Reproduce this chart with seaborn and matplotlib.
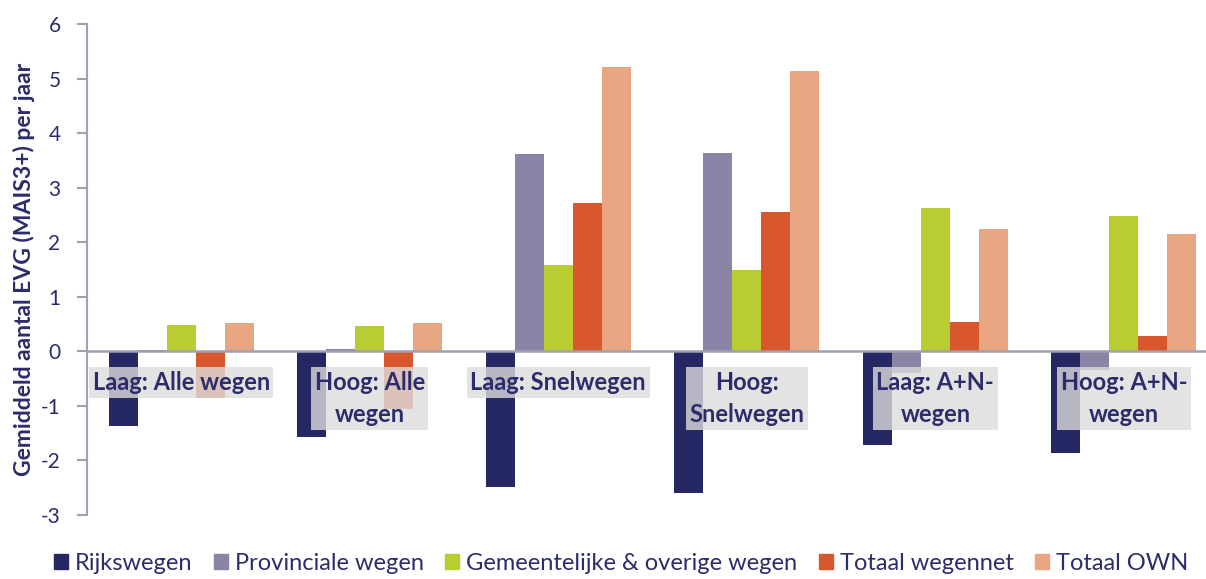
import pandas as pd
import matplotlib.pyplot as plt
import seaborn as sns

# data
categories = ["Laag: Alle wegen", "Hoog: Alle\nwegen", "Laag: Snelwegen",
              "Hoog:\nSnelwegen", "Laag: A+N-\nwegen", "Hoog: A+N-\nwegen"]
series = ["Rijkswegen", "Provinciale wegen", "Gemeentelijke & overige wegen",
          "Totaal wegennet", "Totaal OWN"]
rijkswegen = [-1.37, -1.57, -2.49, -2.60, -1.71, -1.86]
provinciaal = [0.03, 0.05, 3.61, 3.63, -0.39, -0.35]
gemeentelijk = [0.48, 0.47, 1.58, 1.49, 2.62, 2.49]
totaal_wegennet = [-0.86, -1.05, 2.72, 2.55, 0.53, 0.29]
totaal_own = [0.52, 0.52, 5.21, 5.14, 2.24, 2.15]
colors = ["#262864", "#8B84A6", "#B9CC32", "#D9572C", "#E9A683"]

values = [rijkswegen, provinciaal, gemeentelijk, totaal_wegennet, totaal_own]
rows = []
for s, vals in zip(series, values):
    for c, v in zip(categories, vals):
        rows.append({"categorie": c, "reeks": s, "waarde": v})
df = pd.DataFrame(rows)

sns.set_style("white")
plt.rcParams["font.family"] = ["Lato", "DejaVu Sans"]
plt.rcParams["axes.unicode_minus"] = False
navy = "#2B2D6B"

fig = plt.figure(figsize=(12.06, 5.79), dpi=100)
ax = fig.add_axes([0.0721, 0.1105, 0.938, 0.848])

sns.barplot(data=df, x="categorie", y="waarde", hue="reeks", order=categories,
            hue_order=series, palette=colors, width=0.77, saturation=1,
            linewidth=0, legend=False, ax=ax)

ax.set_ylim(-3, 6)
ax.set_xlim(-0.5, 5.5)
ax.set_yticks(range(-3, 7))
ax.tick_params(axis="y", direction="out", length=7, width=1.5, color="#A0A0B4",
               labelsize=15, labelcolor=navy, left=True, pad=12)
ax.set_xticks([])
ax.set_xlabel("")
ax.set_ylabel("Gemiddeld aantal EVG (MAIS3+) per jaar", fontsize=16.5,
              fontweight="bold", color=navy, labelpad=4)
for side in ["top", "right", "bottom"]:
    ax.spines[side].set_visible(False)
ax.spines["left"].set_color("#A0A0B4")
ax.spines["left"].set_linewidth(1.5)
ax.axhline(0, color="#A0A0B4", lw=1.8, zorder=5)

# category labels sitting just below the zero line
for i, c in enumerate(categories):
    ax.text(i, -0.36, c, ha="center", va="top", fontsize=17, fontweight="bold",
            color=navy, linespacing=1.5, zorder=6,
            bbox=dict(boxstyle="square,pad=0.15", facecolor="#DCDCDC",
                      edgecolor="none", alpha=0.8))

handles = [plt.Rectangle((0, 0), 1, 1, color=c) for c in colors]
fig.legend(handles, series, loc="lower center", bbox_to_anchor=(0.515, -0.028),
           ncol=5, frameon=False, fontsize=17, handlelength=0.6,
           handleheight=0.6, handletextpad=0.3, columnspacing=0.9,
           labelcolor=navy)

fig.savefig("out.png", dpi=100)
